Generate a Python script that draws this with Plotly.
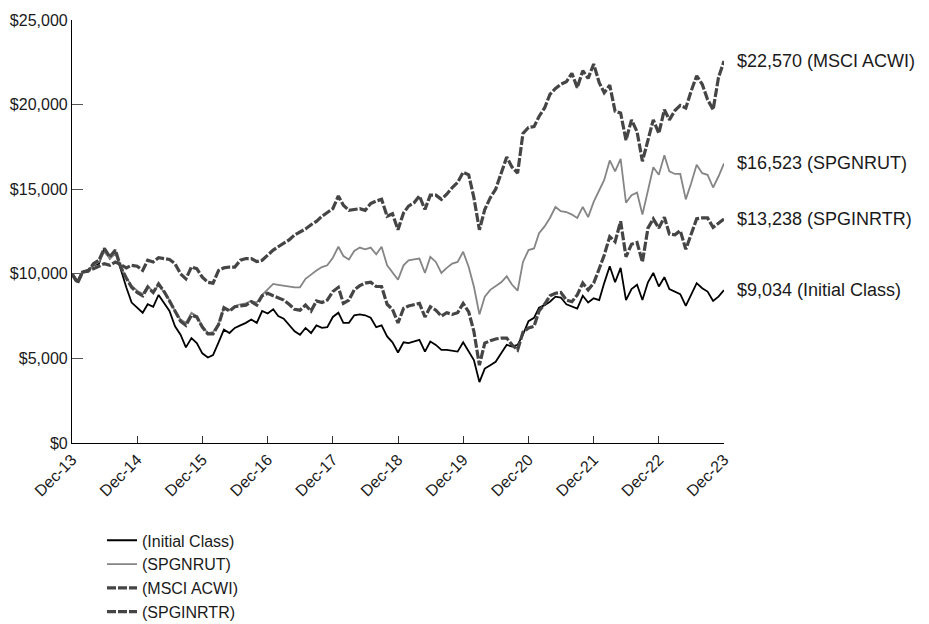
import pandas as pd
import plotly.graph_objects as go

dates = pd.date_range("2013-12-31", periods=121, freq="ME")

initial_class = [
    10000, 9500, 10100, 10200, 10500, 10600, 11500, 10900, 11300, 10200,
    9200, 8300, 8000, 7700, 8200, 8050, 8750, 8300, 7800, 6900,
    6400, 5650, 6200, 5900, 5300, 5050, 5200, 5950, 6700, 6500,
    6800, 6950, 7100, 7300, 7100, 7800, 7650, 7900, 7500, 7350,
    6950, 6600, 6400, 6800, 6500, 6950, 6800, 6850, 7450, 7700,
    7100, 7100, 7550, 7600, 7550, 7400, 6850, 6950, 6300, 5950,
    5350, 5950, 5900, 6000, 6100, 5400, 6000, 5800, 5500, 5500,
    5450, 5400, 5950, 5400, 4900, 3600, 4400, 4600, 4800, 5300,
    5800, 5700, 5800, 6400, 7200, 7400, 8000, 8150, 8350, 8650,
    8600, 8200, 8050, 7950, 8700, 8300, 8550, 8450, 9450, 10450,
    9500, 10350, 8450, 9100, 9350, 8450, 9500, 10050, 9250, 9800,
    9100, 8950, 8800, 8100, 8750, 9450, 9150, 8950, 8400, 8650,
    9034,
]

spgnrut = [
    10000, 9500, 10100, 10150, 10500, 10700, 11300, 10900, 11200, 10400,
    9800, 9300, 9000, 8800, 9300, 8900, 9350, 8900, 8450, 7800,
    7300, 7100, 7700, 7500, 6900, 6500, 6550, 7050, 8000, 7850,
    8100, 8200, 8250, 8400, 8300, 8750, 9100, 9400, 9350, 9300,
    9250, 9200, 9200, 9700, 9950, 10200, 10400, 10500, 10950, 11600,
    11050, 10850, 11350, 11550, 11450, 11550, 11150, 11600, 10500, 10100,
    9650, 10500, 10800, 10850, 10900, 10050, 11000, 10700, 10050, 10350,
    10600, 10700, 11300, 10400, 9250, 7600, 8650, 9050, 9250, 9500,
    9850, 9350, 9000, 10700, 11400, 11500, 12400, 12800, 13300, 13950,
    13700, 13650, 13500, 13300, 13950, 13350, 14250, 14900, 15550, 16700,
    16050, 16800, 14200, 14650, 14800, 13500, 14850, 16300, 15850, 17000,
    16050, 15900, 15900, 14400, 15350, 16450, 15950, 15850, 15100, 15750,
    16523,
]

msci_acwi = [
    10000, 9450, 10100, 10200, 10300, 10450, 10600, 10500, 10700, 10550,
    10350, 10500, 10450, 10200, 10800, 10700, 10950, 10900, 10850, 10600,
    10000, 9700, 10400, 10300, 9800, 9500, 9450, 10200, 10350, 10400,
    10400, 10800, 10900, 10900, 10720, 10800, 11100, 11400, 11600, 11800,
    12000, 12300, 12450, 12650, 12900, 13100, 13400, 13600, 13850, 14600,
    14050, 13750, 13800, 13850, 13750, 14150, 14300, 14400, 13400, 13550,
    12600, 13600, 14000, 14200, 14600, 13800, 14650, 14650, 14400, 14700,
    15100, 15400, 16000, 15850, 14500, 12600, 13800, 14500, 15000, 16000,
    16900, 16300, 15950, 18300, 18650, 18700, 19300, 19800, 20600, 20950,
    21200, 21350, 21850, 21000, 22000, 21550, 22400, 21300, 20700, 21150,
    19600, 19500, 17900, 19100, 18400, 16650, 17900, 19100, 18300, 19700,
    19100, 19650, 19950, 19800, 20800, 21700, 21200, 20300, 19700, 21600,
    22570,
]

spginrtr = [
    10000, 9500, 10100, 10150, 10600, 10800, 11500, 11000, 11400, 10400,
    9750, 9200, 8900, 8700, 9200, 8900, 9400, 8950, 8400, 7750,
    7200, 6950, 7550, 7450, 6850, 6450, 6450, 7000, 8000, 7800,
    8050, 8100, 8150, 8350, 8150, 8700, 8850, 8700, 8600, 8450,
    8200, 7900, 7850, 8150, 7800, 8400, 8300, 8450, 8950, 9200,
    8250, 8450, 9050, 9300, 9450, 9500, 9250, 9250, 8200, 7900,
    7100, 7950, 8100, 8200, 8250, 7450, 8050, 7850, 7500, 7700,
    7600, 7700, 8250, 7750, 6600, 4600, 5900, 6050, 6150, 6200,
    6200, 5800, 5500, 6550, 6800, 6900, 7800, 8200, 8700, 8850,
    8900, 8450, 8350, 8750, 9450, 9050, 9450, 10300, 11100, 12200,
    11900, 13100, 11000, 11750, 11850, 10700, 12700, 13250, 12700, 13350,
    12350, 12300, 12550, 11450, 12400, 13250, 13300, 13300, 12750, 13000,
    13238,
]

series_names = ["(Initial Class)", "(SPGNRUT)", "(MSCI ACWI)", "(SPGINRTR)"]
label_names = ["Initial Class", "SPGNRUT", "MSCI ACWI", "SPGINRTR"]
series_values = [initial_class, spgnrut, msci_acwi, spginrtr]

tick_dates = pd.date_range("2013-12-31", periods=11, freq="12ME")
tick_labels = ["Dec-13", "Dec-14", "Dec-15", "Dec-16", "Dec-17", "Dec-18",
               "Dec-19", "Dec-20", "Dec-21", "Dec-22", "Dec-23"]
y_ticks = [0, 5000, 10000, 15000, 20000, 25000]

styles = [
    dict(color="#000000", width=1.8, dash="solid"),
    dict(color="#858585", width=1.8, dash="solid"),
    dict(color="#454545", width=3.2, dash="9px,2px"),
    dict(color="#454545", width=3.2, dash="9px,2px"),
]

FONT = "Liberation Sans, Arial, sans-serif"
TXT = "#1a1a1a"

fig = go.Figure()
for name, vals, st in zip(series_names, series_values, styles):
    fig.add_trace(go.Scatter(x=dates, y=vals, mode="lines", name=name,
                             line=st))

for lname, vals in zip(label_names, series_values):
    fig.add_annotation(x=dates[-1], y=vals[-1], text=f"${vals[-1]:,} ({lname})",
                       xanchor="left", yanchor="middle", xshift=11,
                       showarrow=False, font=dict(size=18, color=TXT, family=FONT))

fig.update_layout(
    width=921, height=616,
    margin=dict(l=64, r=205, t=12, b=181, autoexpand=False),
    paper_bgcolor="white", plot_bgcolor="white",
    font=dict(family=FONT, color=TXT),
    showlegend=True,
    legend=dict(x=0.046, y=-0.19, xanchor="left", yanchor="top",
                font=dict(size=16, family=FONT, color=TXT),
                tracegroupgap=0, itemwidth=30, bgcolor="rgba(0,0,0,0)"),
    xaxis=dict(type="date", range=[dates[0], dates[-1]],
               tickvals=tick_dates, ticktext=tick_labels, tickangle=-45,
               ticks="inside", ticklen=7, tickcolor="#333",
               showline=True, linecolor="black", linewidth=1.2,
               showgrid=False, zeroline=False, automargin=False,
               tickfont=dict(size=16, family=FONT, color=TXT)),
    yaxis=dict(range=[0, 25000], tickvals=y_ticks, tickformat="$,",
               ticks="inside", ticklen=11, tickcolor="#555",
               showline=True, linecolor="black", linewidth=1.2,
               showgrid=False, zeroline=False, automargin=False,
               tickfont=dict(size=16, family=FONT, color=TXT)),
)

fig.write_html("out.html")
